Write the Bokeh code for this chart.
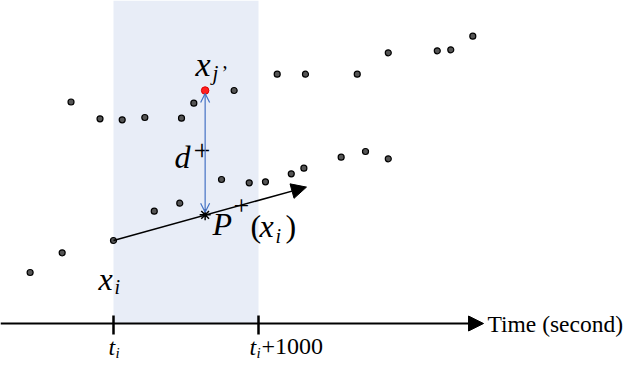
from bokeh.plotting import figure
from bokeh.models import Range1d, Arrow, NormalHead, OpenHead
from bokeh.core.properties import value
from bokeh.embed import file_html
from bokeh.resources import INLINE

# ---------------- data ----------------
# time in seconds relative to t_i ; value in arbitrary units
T_I = 0
WINDOW = 1000

upper_t = [-293, -93, 60, 216, 469, 554, 832, 1129, 1324, 1681, 1895, 2233, 2326, 2478]
upper_v = [274.5, 257.7, 256.7, 259, 258.3, 273.3, 286, 302.3, 302.3, 302.3, 323.7, 325.7, 326.7, 340.3]

lower_t = [-575, -354, 281, 457, 745, 936, 1048, 1226, 1313, 1570, 1738, 1895]
lower_v = [104, 123.7, 165.3, 173.3, 197, 193.7, 194.7, 202.7, 208.3, 219.3, 225, 217.7]

xi_t, xi_v = [0], [136]            # x_i
xj_t, xj_v = [632], [286]          # x_j'
p_t, p_v = [632], [161.7]          # P+(x_i)
dir_end_t, dir_end_v = 1331, 189.4 # end of direction arrow

axis_v = 53
axis_end_t = 2552
axis_title = "Time (second)"

# ---------------- scales (1 screen px = 6.897 s, 1 value unit = 1 px) ----------------
S_PER_PX = 1000 / 145.0
def X(px):
    return (px - 113) * S_PER_PX
def Y(py):
    return 376 - py

W, H = 624, 360
p = figure(width=W, height=H, output_backend="svg", toolbar_location=None,
           x_range=Range1d(X(0), X(W)), y_range=Range1d(Y(H), Y(0)),
           min_border=0, background_fill_color="white", border_fill_color="white")
p.axis.visible = False
p.grid.visible = False
p.outline_line_color = None

# shaded window
p.quad(left=[T_I], right=[T_I + WINDOW], bottom=[axis_v], top=[Y(0)],
       fill_color="#E8EDF7", line_color=None)

# time axis with arrow
p.add_layout(Arrow(end=NormalHead(size=15, fill_color="black", line_color="black"),
                   x_start=X(0), y_start=axis_v, x_end=axis_end_t, y_end=axis_v,
                   line_color="black", line_width=2))
# ticks
p.segment(x0=[T_I, T_I + WINDOW], y0=[axis_v - 11, axis_v - 11],
          x1=[T_I, T_I + WINDOW], y1=[axis_v + 8, axis_v + 8],
          line_color="black", line_width=2.5)

# direction arrow
p.add_layout(Arrow(end=NormalHead(size=15, fill_color="black", line_color="black"),
                   x_start=xi_t[0], y_start=xi_v[0], x_end=dir_end_t, y_end=dir_end_v,
                   line_color="black", line_width=1.5))

# d+ double arrow
p.add_layout(Arrow(start=OpenHead(size=9, line_color="#4472C4", line_width=1.2),
                   end=OpenHead(size=9, line_color="#4472C4", line_width=1.2),
                   x_start=p_t[0], y_start=p_v[0] + 2.5, x_end=xj_t[0], y_end=xj_v[0] - 3,
                   line_color="#4472C4", line_width=1.2))

# points
pt_style = dict(size=6, fill_color="#555555", line_color="black", line_width=1.2)
p.scatter(upper_t, upper_v, marker="circle", **pt_style)
p.scatter(lower_t, lower_v, marker="circle", **pt_style)
p.scatter(xi_t, xi_v, marker="circle", **pt_style)
p.scatter(xj_t, xj_v, marker="circle", size=7.5, fill_color="#FF2020", line_color="#E00000")
p.scatter(p_t, p_v, marker="asterisk", size=11, line_color="black", line_width=1.5)

SERIF = value("Liberation Serif")
BASE_CORR = 0.33   # observed offset of the drawn baseline, in em

def txt(px, py, s, size, style="normal", align="left"):
    p.text(x=[X(px)], y=[Y(py - BASE_CORR * size)], text=[s], text_font=SERIF,
           text_font_size=f"{size}px", text_font_style=style, text_color="black",
           text_baseline="alphabetic", text_align=align)

# x_j'
txt(195, 75, "x", 34, "italic")
txt(212, 79, "j", 21, "italic")
txt(221, 79, "\u2019", 20)

# d+
txt(174, 167, "d", 32, "italic")
txt(193, 160, "+", 30)

# P+(x_i)
txt(212, 234, "P", 32, "italic")
txt(233, 215, "+", 28)
txt(250, 236, "(", 32)
txt(259, 236, "x", 32, "italic")
txt(275, 242, "i", 20, "italic")
txt(285, 236, ")", 32)

# x_i
txt(98, 289, "x", 32, "italic")
txt(114, 293, "i", 20, "italic")

# tick labels
txt(108, 354, "t", 24, "italic")
txt(115, 357, "i", 15, "italic")
txt(249, 354, "t", 24, "italic")
txt(256, 357, "i", 15, "italic")
txt(261, 354, "+1000", 24)

# axis title
txt(487, 331, axis_title, 23.5)

html = file_html(p, INLINE)
open("out.html", "w").write(html)
